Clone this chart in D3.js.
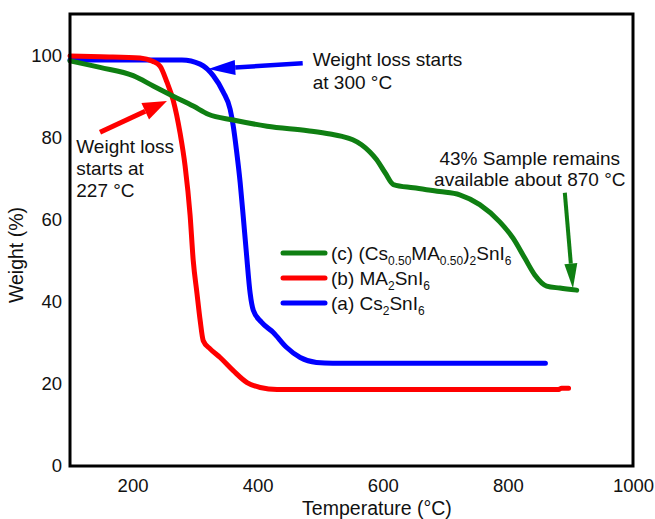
<!DOCTYPE html>
<html>
<head>
<meta charset="utf-8">
<script src="https://cdn.jsdelivr.net/npm/d3@7"></script>
<style>
  html, body { margin: 0; padding: 0; background: #fff; }
  svg { display: block; }
  text { font-family: "Liberation Sans", Arial, Helvetica, sans-serif; fill: #111; }
</style>
</head>
<body>
<svg id="chart" width="655" height="519"></svg>
<script>
// TGA curves: temperature (°C) vs remaining weight (%)
const tempA = [100, 200, 279, 308, 329, 345, 356, 361, 366, 372, 377, 382, 388, 393, 406, 425, 446, 468, 494, 520, 600, 700, 800, 860];
const weightA = [98.8, 98.8, 98.8, 97.8, 95, 91, 86.8, 82.7, 77, 69, 60.6, 51.8, 42, 37.9, 35, 32.5, 28.9, 26.4, 25.2, 25, 25, 25, 25, 25];

const tempB = [100, 150, 212, 232, 244, 255, 265, 276, 284, 292, 297, 303, 308, 313, 324, 340, 361, 383, 404, 431, 500, 600, 700, 800, 880, 886, 897];
const weightB = [99.8, 99.6, 99.3, 98.5, 97.3, 93.4, 89, 81, 73, 61, 50, 42, 35.5, 30.5, 28.5, 26.4, 23.2, 20.3, 19.1, 18.6, 18.6, 18.6, 18.6, 18.6, 18.6, 18.9, 18.9];

const tempC = [100, 148, 201, 233, 265, 297, 321, 361, 415, 480, 516, 535, 552, 566, 579, 590, 604, 617, 649, 691, 723, 755, 787, 808, 827, 843, 862, 883, 910];
const weightC = [98.6, 97, 95, 92.5, 90, 87.6, 85.6, 84.2, 82.7, 81.6, 80.8, 80.2, 79.4, 78.2, 76.5, 74.6, 71.3, 68.5, 67.7, 66.8, 66, 63.6, 59.4, 55.5, 50.6, 46.5, 43.8, 43.3, 42.8];

const xTicks = [200, 400, 600, 800, 1000];
const yTicks = [0, 20, 40, 60, 80, 100];

const seriesColors = { a: "#0000ff", b: "#ff0000", c: "#0f7f12" };

// Annotation arrows in data units: [fromT, fromW, toT, toW]
const arrowB = [148, 81.2, 255, 88.8];
const arrowA = [472, 98.0, 321, 96.6];
const arrowC = [891, 66.5, 904, 43.2];

const noteB = ["Weight loss", "starts at", "227 °C"];
const noteA = ["Weight loss starts", "at 300 °C"];
const noteC = ["43% Sample remains", "available about 870 °C"];

const svg = d3.select("#chart");
const plot = { left: 70, right: 633, top: 14, bottom: 466 };

const x = d3.scaleLinear().domain([100, 1000]).range([plot.left, plot.right]);
const y = d3.scaleLinear().domain([0, 110]).range([plot.bottom, plot.top]);

// Axes (labels only, no tick marks)
const xAxis = d3.axisBottom(x).tickValues(xTicks).tickFormat(d3.format("d")).tickSize(0).tickPadding(12);
const yAxis = d3.axisLeft(y).tickValues(yTicks).tickFormat(d3.format("d")).tickSize(0).tickPadding(8);

svg.append("g").attr("transform", `translate(0,${plot.bottom})`).call(xAxis)
  .call(g => g.select(".domain").remove())
  .selectAll("text").attr("font-size", 18.5).attr("fill", "#111").attr("dy", "0.75em");

svg.append("g").attr("transform", `translate(${plot.left},0)`).call(yAxis)
  .call(g => g.select(".domain").remove())
  .selectAll("text").attr("font-size", 18.5).attr("fill", "#111");

svg.selectAll(".tick text").style("font-family", "'Liberation Sans', Arial, sans-serif");

// Curves
const line = d3.line().x(d => x(d[0])).y(d => y(d[1])).curve(d3.curveMonotoneX);
const zip = (t, w) => t.map((v, i) => [v, w[i]]);

const curves = [
  { key: "a", data: zip(tempA, weightA) },
  { key: "b", data: zip(tempB, weightB) },
  { key: "c", data: zip(tempC, weightC) }
];

svg.append("g").selectAll("path").data(curves).join("path")
  .attr("d", d => line(d.data))
  .attr("fill", "none")
  .attr("stroke", d => seriesColors[d.key])
  .attr("stroke-width", 5)
  .attr("stroke-linejoin", "round")
  .attr("stroke-linecap", "round");

// Plot frame
svg.append("rect")
  .attr("x", plot.left).attr("y", plot.top)
  .attr("width", plot.right - plot.left).attr("height", plot.bottom - plot.top)
  .attr("fill", "none").attr("stroke", "#000").attr("stroke-width", 3);

// Arrows
function arrow(spec, color, width, headLen, headW) {
  const x1 = x(spec[0]), y1 = y(spec[1]), x2 = x(spec[2]), y2 = y(spec[3]);
  const ang = Math.atan2(y2 - y1, x2 - x1);
  const bx = x2 - headLen * Math.cos(ang), by = y2 - headLen * Math.sin(ang);
  const px = -Math.sin(ang) * headW / 2, py = Math.cos(ang) * headW / 2;
  const g = svg.append("g");
  g.append("line").attr("x1", x1).attr("y1", y1).attr("x2", bx).attr("y2", by)
    .attr("stroke", color).attr("stroke-width", width);
  g.append("polygon")
    .attr("points", [[x2, y2], [bx + px, by + py], [bx - px, by - py]].map(p => p.join(",")).join(" "))
    .attr("fill", color);
}
arrow(arrowB, seriesColors.b, 5, 24, 18);
arrow(arrowA, seriesColors.a, 4.5, 27, 15);
arrow(arrowC, seriesColors.c, 4, 25, 13);

// Notes
function note(lines, tx, ty, anchor, gap) {
  const t = svg.append("text").attr("font-size", 19).attr("text-anchor", anchor);
  lines.forEach((s, i) => t.append("tspan").attr("x", x(tx)).attr("y", y(ty) + i * gap).text(s));
}
note(noteB, 110, (465 - 153) / 4.09, "start", 22);
note(noteA, 488, (465 - 67) / 4.09, "start", 23);
note(noteC, 835, (465 - 165) / 4.09, "middle", 21);

// Legend
const legendItems = [
  { key: "c", parts: [["(c) (Cs", 0], ["0.50", 1], ["MA", 0], ["0.50", 1], [")", 0], ["2", 1], ["SnI", 0], ["6", 1]] },
  { key: "b", parts: [["(b) MA", 0], ["2", 1], ["SnI", 0], ["6", 1]] },
  { key: "a", parts: [["(a) Cs", 0], ["2", 1], ["SnI", 0], ["6", 1]] }
];
const leg = svg.append("g").attr("transform", "translate(283,253)");
legendItems.forEach((item, i) => {
  const row = leg.append("g").attr("transform", `translate(0,${i * 25})`);
  row.append("line").attr("x1", 0).attr("x2", 42).attr("y1", 0).attr("y2", 0)
    .attr("stroke", seriesColors[item.key]).attr("stroke-width", 5).attr("stroke-linecap", "round");
  const t = row.append("text").attr("x", 48).attr("y", 7).attr("font-size", 19);
  let sub = 0;
  item.parts.forEach(([s, isSub]) => {
    const dy = isSub && !sub ? 5 : (!isSub && sub ? -5 : 0);
    t.append("tspan").attr("dy", dy).attr("font-size", isSub ? 12 : 19).text(s);
    sub = isSub;
  });
});

// Axis titles
svg.append("text").attr("x", 377).attr("y", 515).attr("text-anchor", "middle")
  .attr("font-size", 19.5).text("Temperature (°C)");
svg.append("text").attr("transform", "translate(23,255) rotate(-90)").attr("text-anchor", "middle")
  .attr("font-size", 19.5).text("Weight (%)");
</script>
</body>
</html>
